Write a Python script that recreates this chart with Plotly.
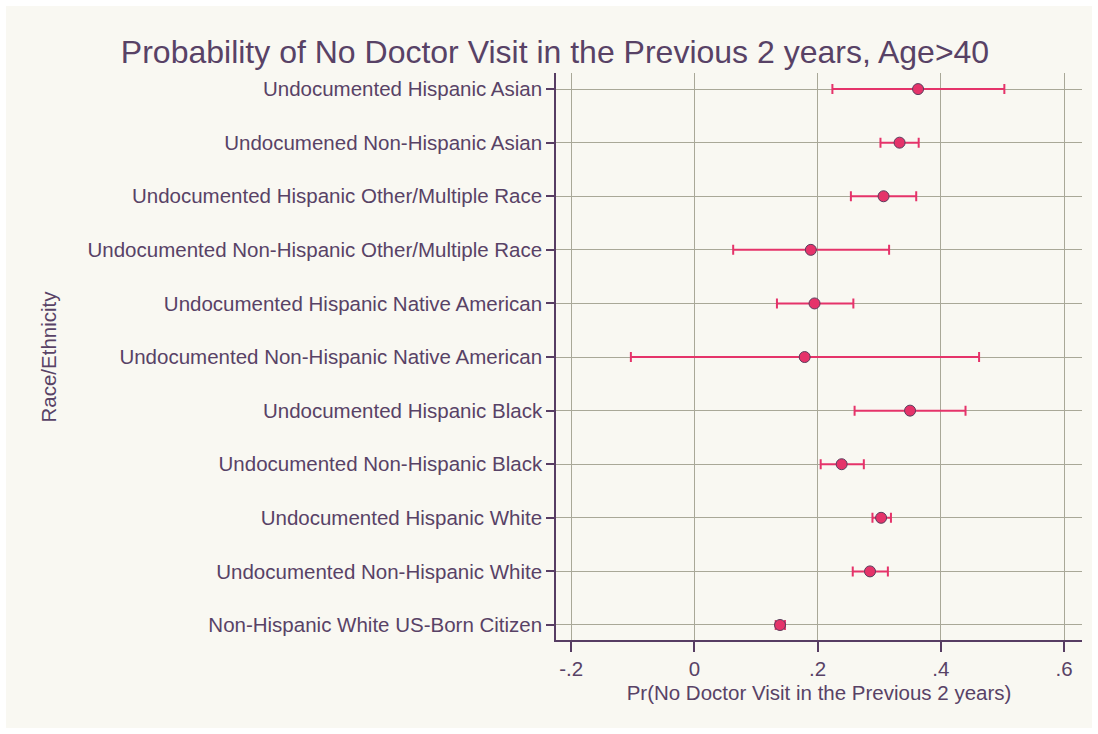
import plotly.graph_objects as go

# Race/ethnicity groups, bottom to top
groups = [
    "Non-Hispanic White US-Born Citizen",
    "Undocumented Non-Hispanic White",
    "Undocumented Hispanic White",
    "Undocumented Non-Hispanic Black",
    "Undocumented Hispanic Black",
    "Undocumented Non-Hispanic Native American",
    "Undocumented Hispanic Native American",
    "Undocumented Non-Hispanic Other/Multiple Race",
    "Undocumented Hispanic Other/Multiple Race",
    "Undocumened Non-Hispanic Asian",
    "Undocumented Hispanic Asian",
]

# Predicted probability and 95% CI bounds
estimate = [0.139, 0.285, 0.303, 0.239, 0.350, 0.179, 0.195, 0.189, 0.307, 0.333, 0.363]
ci_low = [0.132, 0.257, 0.289, 0.205, 0.260, -0.103, 0.134, 0.063, 0.254, 0.302, 0.224]
ci_high = [0.147, 0.314, 0.319, 0.275, 0.440, 0.462, 0.258, 0.316, 0.360, 0.364, 0.503]

x_tick_vals = [-0.2, 0, 0.2, 0.4, 0.6]
x_tick_text = ["-.2", "0", ".2", ".4", ".6"]

TEXT = "#584266"
AXIS = "#573d63"
GRID = "#a9a898"
BG = "#f9f8f2"
ACCENT = "#e5336a"

fig = go.Figure()
fig.add_trace(go.Scatter(
    x=estimate,
    y=list(range(len(groups))),
    mode="markers",
    marker=dict(size=11, color=ACCENT, line=dict(color="#5a3d5c", width=1)),
    error_x=dict(
        type="data",
        symmetric=False,
        array=[h - e for h, e in zip(ci_high, estimate)],
        arrayminus=[e - l for e, l in zip(estimate, ci_low)],
        color=ACCENT,
        thickness=2,
        width=5,
    ),
    showlegend=False,
))

L, R, T, B = 556, 16, 73, 94
W, H = 1098, 734
pw, ph = W - L - R, H - T - B

def px_x(p):
    return (p - L) / pw

def px_y(p):
    return (H - B - p) / ph

fig.update_layout(
    width=W,
    height=H,
    margin=dict(l=L, r=R, t=T, b=B),
    paper_bgcolor="white",
    plot_bgcolor=BG,
    font=dict(family="Liberation Sans, Arial, sans-serif", color=TEXT, size=20),
    title=dict(
        text="Probability of No Doctor Visit in the Previous 2 years, Age>40",
        x=555 / W,
        xref="container",
        xanchor="center",
        y=1 - 52 / H,
        yanchor="middle",
        font=dict(size=32, color=TEXT),
    ),
    shapes=[dict(
        type="rect", xref="paper", yref="paper", layer="below",
        x0=px_x(6), x1=px_x(1092), y0=px_y(728), y1=px_y(6),
        fillcolor=BG, line=dict(width=0),
    )],
    annotations=[dict(
        text="Race/Ethnicity", textangle=-90, showarrow=False,
        xref="paper", yref="paper", x=px_x(48), y=0.5,
        xanchor="center", yanchor="middle", font=dict(size=20.5, color=TEXT),
    )],
    xaxis=dict(
        range=[-0.2245, 0.629],
        tickvals=x_tick_vals,
        ticktext=x_tick_text,
        showgrid=True, gridcolor=GRID, gridwidth=1,
        zeroline=False,
        showline=True, linecolor=AXIS, linewidth=1.5,
        ticks="outside", ticklen=10, tickcolor=AXIS, tickwidth=1.5,
        tickfont=dict(size=20.5, color=TEXT),
        title=dict(text="Pr(No Doctor Visit in the Previous 2 years)", standoff=6,
                   font=dict(size=20.5, color=TEXT)),
    ),
    yaxis=dict(
        range=[-0.28, len(groups) - 0.7],
        tickvals=list(range(len(groups))),
        ticktext=groups,
        showgrid=True, gridcolor=GRID, gridwidth=1,
        zeroline=False,
        showline=True, linecolor=AXIS, linewidth=1.5,
        ticks="outside", ticklen=8, tickcolor=AXIS, tickwidth=1.5,
        tickfont=dict(size=20.5, color=TEXT),
        automargin=False,
    ),
)

fig.write_html("out.html")
